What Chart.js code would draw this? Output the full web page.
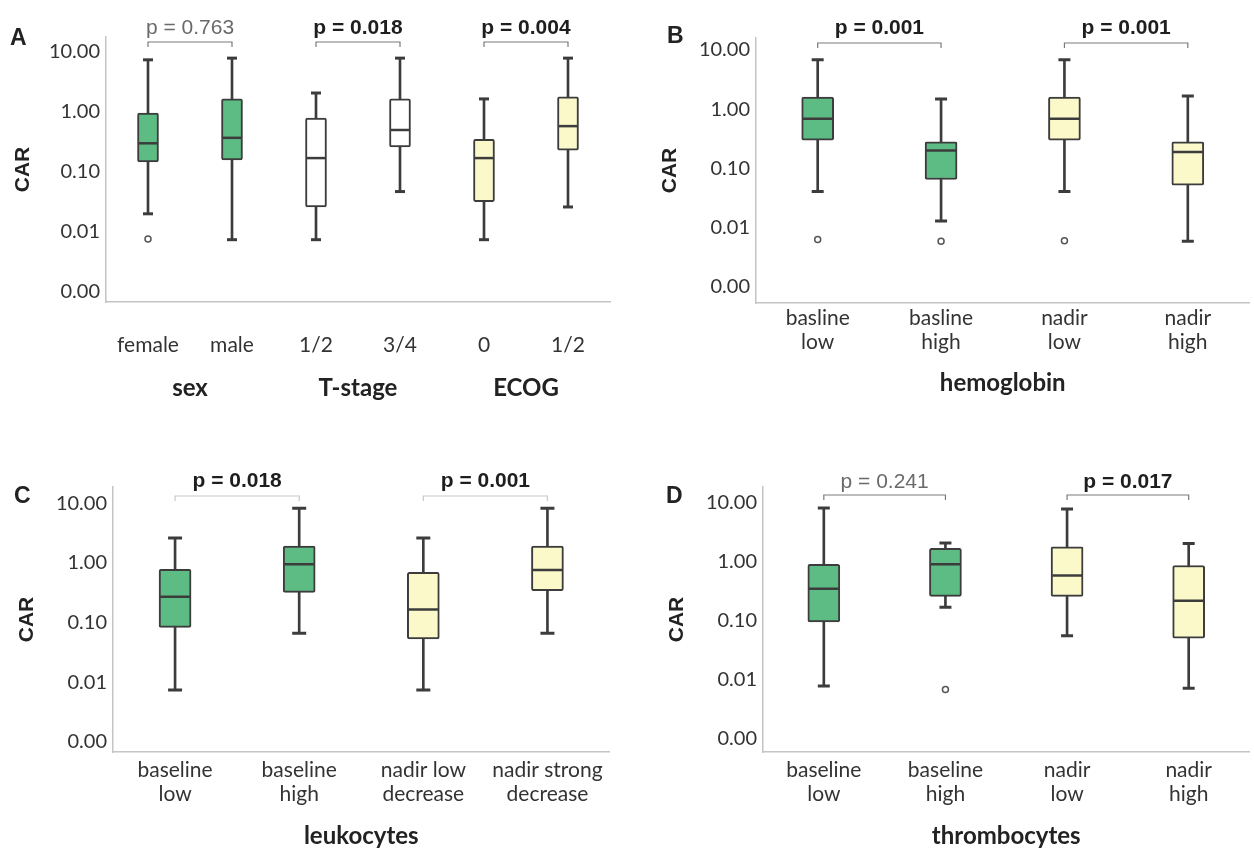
<!DOCTYPE html>
<html>
<head>
<meta charset="utf-8">
<script src="https://cdn.jsdelivr.net/npm/chart.js@4"></script>
<style>
  html, body { margin: 0; padding: 0; background: #fff; overflow: hidden; width: 1254px; height: 848px; position: relative; }
  canvas { position: absolute; }
  .tag { position: absolute; z-index: 2; font: bold 23px "Liberation Sans", Arial, sans-serif; line-height: 23px; color: #222; }
</style>
</head>
<body>
<div class="tag" style="left:10px;top:26px">A</div>
<div class="tag" style="left:667px;top:24px">B</div>
<div class="tag" style="left:14px;top:484px">C</div>
<div class="tag" style="left:666px;top:484px">D</div>
<canvas id="chartA" width="627" height="424" style="left:0;top:0"></canvas>
<canvas id="chartB" width="640" height="424" style="left:627px;top:0"></canvas>
<canvas id="chartC" width="627" height="424" style="left:0;top:424px"></canvas>
<canvas id="chartD" width="640" height="424" style="left:627px;top:424px"></canvas>
<script>
  // shared y ticks (log scale, 0.001 shows as 0.00)
  const yTicks = [0.001, 0.01, 0.1, 1, 10];

  // A: sex / T-stage / ECOG
  const catsA = ['female', 'male', '1/2', '3/4', '0', '1/2'];
  const groupsA = ['sex', 'T-stage', 'ECOG'];
  const lowA = [0.020, 0.0074, 0.0074, 0.047, 0.0074, 0.026];
  const q1A = [0.147, 0.158, 0.026, 0.26, 0.032, 0.23];
  const medA = [0.30, 0.37, 0.17, 0.50, 0.17, 0.58];
  const q3A = [0.96, 1.65, 0.79, 1.65, 0.35, 1.78];
  const highA = [7.4, 7.9, 2.07, 7.9, 1.65, 7.9];
  const outA = [0.0076, null, null, null, null, null];
  const compA = [[0, 1, 'p = 0.763', false], [2, 3, 'p = 0.018', true], [4, 5, 'p = 0.004', true]];

  // B: hemoglobin
  const catsB = [['basline', 'low'], ['basline', 'high'], ['nadir', 'low'], ['nadir', 'high']];
  const lowB = [0.041, 0.013, 0.041, 0.0059];
  const q1B = [0.30, 0.065, 0.30, 0.052];
  const medB = [0.69, 0.20, 0.69, 0.19];
  const q3B = [1.6, 0.28, 1.6, 0.28];
  const highB = [6.8, 1.48, 6.8, 1.67];
  const outB = [0.0063, 0.0059, 0.006, null];
  const compB = [[0, 1, 'p = 0.001', true], [2, 3, 'p = 0.001', true]];

  // C: leukocytes
  const catsC = [['baseline', 'low'], ['baseline', 'high'], ['nadir low', 'decrease'], ['nadir strong', 'decrease']];
  const lowC = [0.0074, 0.066, 0.0074, 0.066];
  const q1C = [0.083, 0.32, 0.053, 0.34];
  const medC = [0.27, 0.95, 0.165, 0.76];
  const q3C = [0.78, 1.9, 0.69, 1.9];
  const highC = [2.6, 8.2, 2.6, 8.2];
  const outC = [null, null, null, null];
  const compC = [[0, 1, 'p = 0.018', true], [2, 3, 'p = 0.001', true]];

  // D: thrombocytes
  const catsD = [['baseline', 'low'], ['baseline', 'high'], ['nadir', 'low'], ['nadir', 'high']];
  const lowD = [0.0079, 0.17, 0.056, 0.0072];
  const q1D = [0.096, 0.26, 0.26, 0.051];
  const medD = [0.35, 0.91, 0.59, 0.22];
  const q3D = [0.91, 1.7, 1.8, 0.87];
  const highD = [8.2, 2.1, 7.9, 2.05];
  const outD = [null, 0.0069, null, null];
  const compD = [[0, 1, 'p = 0.241', false], [2, 3, 'p = 0.017', true]];

  const GREEN = '#5dbb84';
  const YELLOW = '#fbf9c9';
  const WHITE = '#ffffff';
  const INK = '#3c3c3c';
  const AXIS = '#c4c4c4';

  function points(data, style, radius, width, order) {
    return {
      type: 'line',
      data: data,
      showLine: false,
      pointStyle: style,
      pointRadius: radius,
      pointHoverRadius: radius,
      pointBorderWidth: width,
      pointBorderColor: INK,
      pointBackgroundColor: INK,
      order: order
    };
  }

  function makePanel(id, d, s) {
    const overlay = {
      id: 'overlay',
      afterDraw(chart) {
        const { ctx, chartArea } = chart;
        const x = chart.scales.x;
        const y = chartArea.top + s.bracketDy;
        ctx.save();
        ctx.textAlign = 'center';
        ctx.textBaseline = 'middle';
        d.comps.forEach(([a, b, text, sig]) => {
          const x1 = x.getPixelForValue(a);
          const x2 = x.getPixelForValue(b);
          ctx.strokeStyle = s.bracketColor;
          ctx.lineWidth = 1.2;
          ctx.beginPath();
          ctx.moveTo(x1, y + 5);
          ctx.lineTo(x1, y);
          ctx.lineTo(x2, y);
          ctx.lineTo(x2, y + 5);
          ctx.stroke();
          ctx.font = (sig ? 'bold ' : '') + '21px "Liberation Sans"';
          ctx.fillStyle = sig ? '#1e1e1e' : '#6a6a6a';
          ctx.fillText(text, (x1 + x2) / 2, y - s.pDy);
        });
        if (d.groups) {
          ctx.font = 'bold 24px Lato';
          ctx.fillStyle = '#222';
          d.groups.forEach((g, k) => {
            const gx = (x.getPixelForValue(2 * k) + x.getPixelForValue(2 * k + 1)) / 2;
            ctx.fillText(g, gx, chartArea.bottom + s.groupDy);
          });
        }
        ctx.restore();
      }
    };

    return new Chart(document.getElementById(id).getContext('2d'), {
      type: 'bar',
      data: {
        labels: d.cats,
        datasets: [
          {
            type: 'bar',
            data: d.low.map((v, i) => [v, d.high[i]]),
            backgroundColor: INK,
            barThickness: 2,
            grouped: false,
            order: 4
          },
          {
            type: 'bar',
            data: d.q1.map((v, i) => [v, d.q3[i]]),
            backgroundColor: s.fills,
            borderColor: INK,
            borderWidth: 2,
            borderSkipped: false,
            borderRadius: 2,
            barThickness: s.boxW,
            grouped: false,
            order: 3
          },
          points(d.high, 'line', s.capR, 3, 2),
          points(d.low, 'line', s.capR, 3, 2),
          points(d.med, 'line', s.boxW / 2 - 1, 2.5, 1),
          {
            type: 'line',
            data: d.out,
            showLine: false,
            pointStyle: 'circle',
            pointRadius: 3,
            pointBackgroundColor: '#fff',
            pointBorderColor: '#555',
            pointBorderWidth: 1.5,
            order: 1
          }
        ]
      },
      options: {
        responsive: false,
        animation: false,
        events: [],
        layout: { padding: { top: s.padTop, right: s.padRight, left: 0, bottom: 0 } },
        plugins: {
          legend: { display: false },
          tooltip: { enabled: false }
        },
        scales: {
          x: {
            grid: { display: false, drawTicks: false },
            border: { color: AXIS, width: 1.5 },
            ticks: {
              color: '#333',
              font: { family: 'Lato', size: 21, lineHeight: 1.15 },
              padding: s.xTickPad,
              maxRotation: 0,
              autoSkip: false
            },
            title: {
              display: !!d.title,
              text: d.title || '',
              color: '#222',
              font: { family: 'Lato', size: 24, weight: 'bold', lineHeight: 1 },
              padding: { top: 0, bottom: s.xTitlePad }
            },
            afterFit: (sc) => { sc.height = s.xH; }
          },
          y: {
            type: 'logarithmic',
            min: Math.pow(10, s.logMin),
            max: Math.pow(10, s.logMax),
            grid: { display: false, drawTicks: false },
            border: { color: AXIS, width: 1.5 },
            afterBuildTicks: (sc) => { sc.ticks = yTicks.map(v => ({ value: v })); },
            ticks: {
              color: '#333',
              font: { family: 'Lato', size: 20 },
              padding: 6,
              callback: (v) => Number(v).toFixed(2)
            },
            title: {
              display: true,
              text: 'CAR',
              color: '#222',
              font: { family: 'Liberation Sans', size: 21, weight: 'bold', lineHeight: 1 },
              padding: { top: s.yTitlePad, bottom: 0 }
            },
            afterFit: (sc) => { sc.width = s.yW; }
          }
        }
      },
      plugins: [overlay]
    });
  }

  makePanel('chartA',
    { cats: catsA, groups: groupsA, low: lowA, q1: q1A, med: medA, q3: q3A, high: highA, out: outA, comps: compA },
    { fills: [GREEN, GREEN, WHITE, WHITE, YELLOW, YELLOW], padTop: 37, padRight: 17, yW: 106, xH: 122,
      logMin: -3.17, logMax: 1.25, boxW: 21, capR: 5, xTickPad: 31, xTitlePad: 0, yTitlePad: 12.5,
      bracketDy: 5, pDy: 14, groupDy: 86, bracketColor: '#7a7a7a' });

  makePanel('chartB',
    { cats: catsB, title: 'hemoglobin', low: lowB, q1: q1B, med: medB, q3: q3B, high: highB, out: outB, comps: compB },
    { fills: [GREEN, GREEN, YELLOW, YELLOW], padTop: 38, padRight: 7, yW: 129, xH: 121,
      logMin: -3.27, logMax: 1.2, boxW: 32, capR: 6, xTickPad: 3, xTitlePad: 29, yTitlePad: 32.5,
      bracketDy: 5, pDy: 15, bracketColor: '#7a7a7a' });

  makePanel('chartC',
    { cats: catsC, title: 'leukocytes', low: lowC, q1: q1C, med: medC, q3: q3C, high: highC, out: outC, comps: compC },
    { fills: [GREEN, GREEN, YELLOW, YELLOW], padTop: 63, padRight: 10, yW: 113, xH: 96,
      logMin: -3.17, logMax: 1.27, boxW: 32, capR: 7, xTickPad: 6, xTitlePad: 0, yTitlePad: 16.5,
      bracketDy: 9, pDy: 15, bracketColor: '#c8c8c8' });

  makePanel('chartD',
    { cats: catsD, title: 'thrombocytes', low: lowD, q1: q1D, med: medD, q3: q3D, high: highD, out: outD, comps: compD },
    { fills: [GREEN, GREEN, YELLOW, YELLOW], padTop: 63, padRight: 0, yW: 136, xH: 96,
      logMin: -3.2, logMax: 1.27, boxW: 32, capR: 6, xTickPad: 6, xTitlePad: 0, yTitlePad: 39.5,
      bracketDy: 8, pDy: 13, bracketColor: '#7a7a7a' });
</script>
</body>
</html>
